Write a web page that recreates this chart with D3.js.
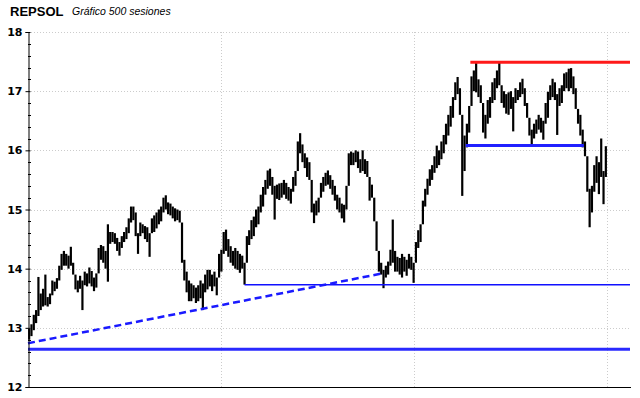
<!DOCTYPE html>
<html>
<head>
<meta charset="utf-8">
<script src="https://cdn.jsdelivr.net/npm/d3@7"></script>
<style>
  body { margin: 0; background: #fff; }
  svg { display: block; }
</style>
</head>
<body>
<div id="chart"></div>
<script>
// one bar every 2 sessions (250 bars = 500 sesiones)
var lows = [
  12.80,12.86,12.96,13.08,13.20,13.30,13.36,13.38,13.36,13.40,
  13.55,13.62,13.66,13.80,13.98,14.05,14.05,14.00,14.05,13.90,
  13.65,13.60,13.66,13.30,13.72,13.70,13.75,13.70,13.62,13.68,
  14.05,14.15,14.10,14.00,13.78,14.42,14.45,14.42,14.30,14.22,
  14.35,14.45,14.50,14.60,14.78,14.82,14.55,14.25,14.55,14.60,
  14.50,14.45,14.20,14.60,14.62,14.68,14.75,14.80,14.95,15.00,
  14.92,14.90,14.85,14.80,14.82,14.78,14.10,13.80,13.60,13.45,
  13.45,13.50,13.42,13.45,13.50,13.30,13.60,13.65,13.70,13.62,
  13.70,13.55,13.88,13.95,14.25,14.30,14.20,14.10,14.05,14.00,
  13.98,13.93,14.00,13.73,14.25,14.40,14.50,14.55,14.70,14.75,
  14.95,15.05,15.25,15.35,15.40,15.25,14.83,15.18,15.16,15.20,
  15.25,15.18,15.15,15.10,15.30,15.40,15.85,15.95,15.80,15.70,
  15.55,15.50,14.95,14.77,14.90,14.95,15.20,15.30,15.40,15.42,
  15.35,15.25,15.15,15.00,14.95,14.85,14.78,15.00,15.70,15.75,
  15.75,15.80,15.70,15.62,15.65,15.60,15.55,15.15,15.20,14.80,
  14.30,13.95,13.90,13.67,13.85,13.90,14.05,14.10,13.95,13.95,
  13.90,13.85,13.95,13.88,14.00,13.98,13.76,14.15,14.35,14.45,
  14.85,15.05,15.25,15.40,15.50,15.62,15.70,15.75,15.85,15.95,
  16.10,16.25,16.40,16.55,16.85,16.95,16.60,15.23,15.65,16.05,
  16.30,16.85,17.00,16.98,16.90,16.80,16.30,16.20,16.45,16.55,
  16.80,16.85,17.05,17.10,16.80,16.72,16.62,16.60,16.70,16.32,
  16.80,16.85,16.90,16.95,16.75,16.55,16.25,16.10,16.20,16.28,
  16.35,16.30,16.18,16.45,16.55,16.85,16.90,16.85,16.26,16.75,
  16.80,17.00,17.05,17.00,17.05,16.95,16.70,16.45,16.25,16.05,
  15.90,15.30,14.70,14.95,15.30,15.45,15.26,15.55,15.09,15.55
];
var highs = [
  12.98,13.06,13.22,13.30,13.86,13.58,13.66,13.90,13.52,13.58,
  13.80,13.78,13.84,14.05,14.25,14.30,14.25,14.22,14.37,14.10,
  13.85,13.80,13.88,13.80,13.95,13.92,14.02,13.96,13.85,13.92,
  14.35,14.40,14.38,14.30,14.75,14.62,14.62,14.60,14.52,14.45,
  14.55,14.62,14.70,14.85,15.05,15.05,14.95,14.60,14.78,14.75,
  14.72,14.70,14.60,14.85,14.90,14.95,15.00,15.05,15.20,15.24,
  15.12,15.10,15.05,15.02,15.00,14.98,14.52,14.15,13.95,13.80,
  13.75,13.72,13.68,13.72,13.80,13.75,13.90,13.98,13.98,13.90,
  13.95,13.85,14.25,14.32,14.62,14.66,14.50,14.38,14.30,14.35,
  14.30,14.25,14.22,14.10,14.55,14.65,14.82,14.88,15.00,15.05,
  15.25,15.38,15.50,15.66,15.69,15.55,15.40,15.42,15.44,15.45,
  15.50,15.45,15.38,15.35,15.55,15.65,16.15,16.29,16.10,15.95,
  15.88,15.80,15.25,15.10,15.15,15.20,15.45,15.55,15.62,15.66,
  15.58,15.50,15.40,15.25,15.20,15.10,15.08,15.40,15.95,15.98,
  15.96,16.00,15.98,15.85,16.00,15.85,15.82,15.40,15.42,15.05,
  14.60,14.20,14.10,13.98,14.05,14.12,14.32,14.83,14.30,14.20,
  14.18,14.25,14.20,14.15,14.25,14.20,14.10,14.45,14.65,14.75,
  15.15,15.35,15.52,15.68,15.75,15.90,16.08,16.00,16.15,16.26,
  16.45,16.60,16.75,16.90,17.15,17.24,17.05,16.40,16.25,16.45,
  16.75,17.25,17.35,17.48,17.20,17.10,16.65,16.60,16.85,16.90,
  17.15,17.22,17.35,17.49,17.05,17.00,16.95,16.98,17.00,16.90,
  17.05,17.02,17.15,17.21,17.05,16.80,16.55,16.35,16.45,16.52,
  16.60,16.55,16.50,16.80,16.99,17.10,17.21,17.15,16.95,17.05,
  17.10,17.30,17.32,17.38,17.39,17.25,17.05,16.70,16.60,16.35,
  16.15,15.90,15.35,15.40,15.75,15.90,15.80,16.20,15.65,16.07
];
var yTicks = [12, 13, 14, 15, 16, 17, 18];
var sessionGrid = [500 / 3, 1000 / 3, 500];

// support / resistance lines drawn on the chart  (from / to in sessions)
var hLines = [
  {level: 17.49, from: 382, to: 520, color: "#ff1a1a", width: 3},
  {level: 16.08, from: 378, to: 480, color: "#2020ff", width: 3},
  {level: 13.73, from: 187, to: 520, color: "#1010ff", width: 1.5},
  {level: 12.64, from: 0,   to: 520, color: "#2a2aff", width: 3}
];
var trend = {from: 0, to: 306, v0: 12.74, v1: 13.92};

var W = 640, H = 398;
var x = d3.scaleLinear().domain([0, 500]).range([28, 607]);
var y = d3.scaleLinear().domain([12, 18]).range([387, 32]);
var right = 630;

var svg = d3.select("#chart").append("svg")
  .attr("width", W).attr("height", H);

// grid
svg.append("g").selectAll("line")
  .data(yTicks.filter(function(d){ return d > 12; }))
  .enter().append("line")
  .attr("x1", 28).attr("x2", right)
  .attr("y1", function(d){ return Math.round(y(d)) + 0.5; })
  .attr("y2", function(d){ return Math.round(y(d)) + 0.5; })
  .attr("stroke", "#cccccc").attr("stroke-dasharray", "1,2");

svg.append("g").selectAll("line")
  .data(sessionGrid)
  .enter().append("line")
  .attr("x1", function(d){ return Math.round(x(d)) + 0.5; })
  .attr("x2", function(d){ return Math.round(x(d)) + 0.5; })
  .attr("y1", 32).attr("y2", 387)
  .attr("stroke", "#cccccc").attr("stroke-dasharray", "1,2");

// price bars, each joined to the previous one so the trace is continuous
svg.append("g").selectAll("line")
  .data(lows)
  .enter().append("line")
  .attr("x1", function(d, i){ return x(2 * i + 1); })
  .attr("x2", function(d, i){ return x(2 * i + 1); })
  .attr("y1", function(d, i){
    var lo = i > 0 ? Math.min(d, highs[i - 1]) : d;
    return y(lo);
  })
  .attr("y2", function(d, i){
    var hi = i > 0 ? Math.max(highs[i], lows[i - 1]) : highs[i];
    return y(hi);
  })
  .attr("stroke", "#000").attr("stroke-width", 2.2);

// horizontal levels
svg.append("g").selectAll("line")
  .data(hLines)
  .enter().append("line")
  .attr("x1", function(d){ return x(d.from); })
  .attr("x2", function(d){ return Math.min(x(d.to), right); })
  .attr("y1", function(d){ return y(d.level); })
  .attr("y2", function(d){ return y(d.level); })
  .attr("stroke", function(d){ return d.color; })
  .attr("stroke-width", function(d){ return d.width; });

// dashed trend line
svg.append("line")
  .attr("x1", x(trend.from)).attr("y1", y(trend.v0))
  .attr("x2", x(trend.to)).attr("y2", y(trend.v1))
  .attr("stroke", "#1a1aff").attr("stroke-width", 2.5)
  .attr("stroke-dasharray", "7,4");

// axes
var yAxis = d3.axisLeft(y).tickValues(yTicks).tickSize(3).tickFormat(d3.format("d"));
var gy = svg.append("g").attr("transform", "translate(28.5,0)").call(yAxis);
gy.select(".domain").attr("stroke", "#000");
gy.selectAll(".tick line").attr("x2", 2).attr("x1", -3).attr("stroke", "#000");
gy.selectAll(".tick text")
  .attr("x", -6)
  .style("font-family", "DejaVu Sans, Verdana, sans-serif")
  .style("font-size", "11px").style("font-weight", "bold").attr("fill", "#000");

var minor = d3.range(12, 18.001, 0.2).filter(function(v){ return Math.abs(v - Math.round(v)) > 0.01; });
svg.append("g").selectAll("line")
  .data(minor).enter().append("line")
  .attr("x1", 28).attr("x2", 31)
  .attr("y1", function(d){ return Math.round(y(d)) + 0.5; })
  .attr("y2", function(d){ return Math.round(y(d)) + 0.5; })
  .attr("stroke", "#000");

svg.append("line")
  .attr("x1", 28).attr("x2", right + 1)
  .attr("y1", 387.5).attr("y2", 387.5)
  .attr("stroke", "#000");

// title
svg.append("text")
  .attr("x", 10).attr("y", 16)
  .style("font-family", "Liberation Sans, Arial, sans-serif")
  .style("font-size", "13px").style("font-weight", "bold")
  .text("REPSOL");
svg.append("text")
  .attr("x", 72).attr("y", 15)
  .style("font-family", "Liberation Sans, Arial, sans-serif")
  .style("font-size", "10.5px").style("font-style", "italic")
  .text("Gráfico 500 sesiones");
</script>
</body>
</html>
